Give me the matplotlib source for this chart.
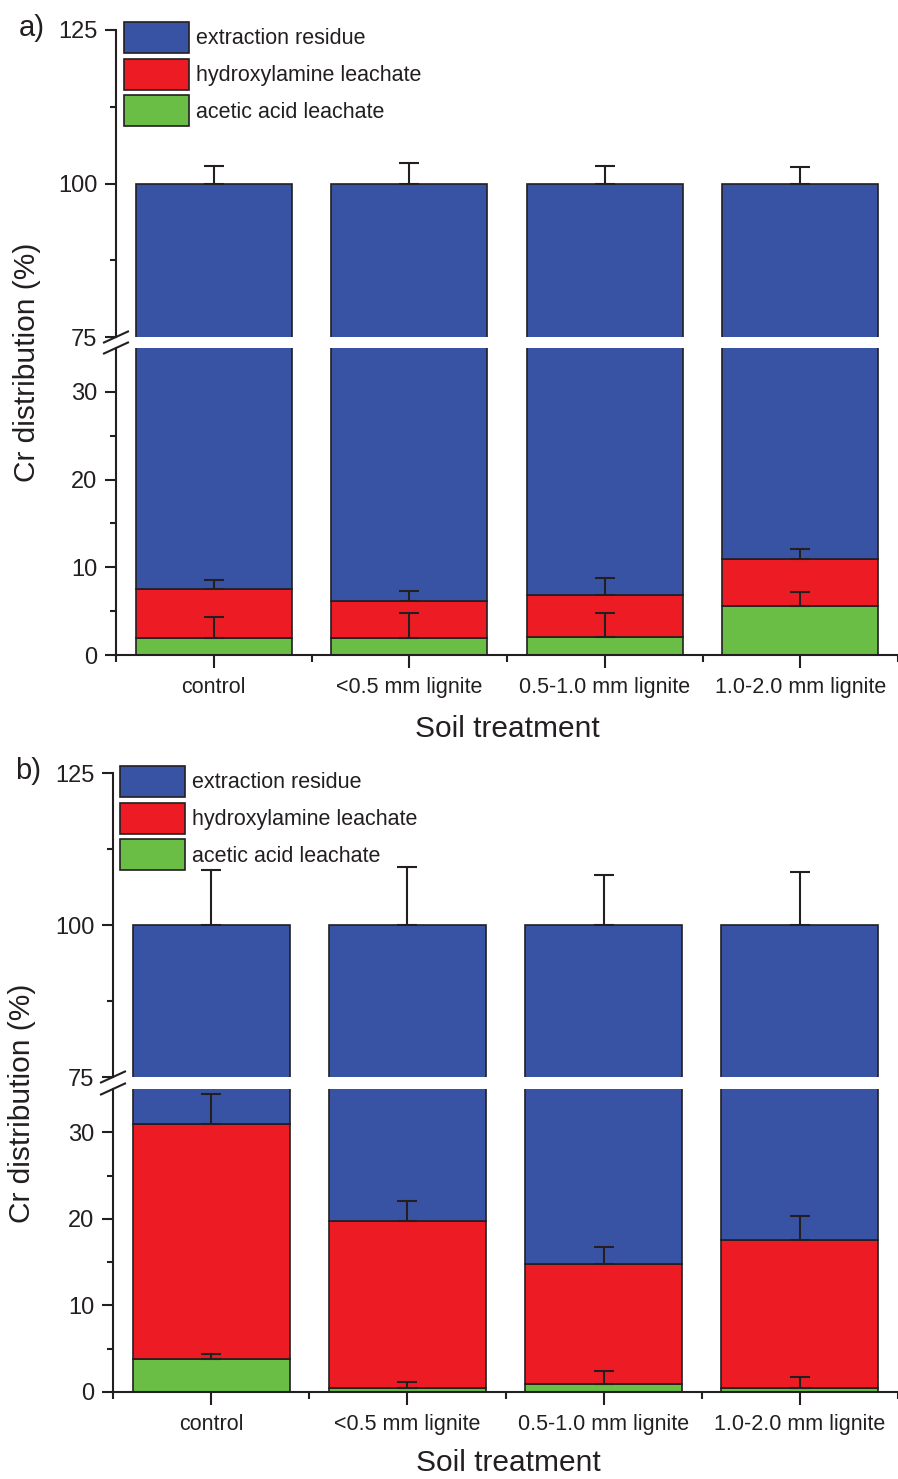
import matplotlib
matplotlib.use("Agg")
import matplotlib.pyplot as plt
from matplotlib.lines import Line2D
from matplotlib.patches import Patch
import numpy as np

plt.rcParams['font.family'] = ['Liberation Sans', 'DejaVu Sans']

# ---------------- data ----------------
categories = ["control", "<0.5 mm lignite", "0.5-1.0 mm lignite", "1.0-2.0 mm lignite"]
series_names = ["extraction residue", "hydroxylamine leachate", "acetic acid leachate"]

# panel a
a_acetic = [1.9, 1.9, 2.1, 5.6]
a_hydrox = [5.65, 4.3, 4.7, 5.4]
a_acetic_err = [2.45, 2.85, 2.7, 1.6]
a_hydrox_err = [1.05, 1.1, 2.0, 1.1]
a_residue_err = [2.8, 3.3, 2.9, 2.7]

# panel b
b_acetic = [3.8, 0.5, 0.9, 0.5]
b_hydrox = [27.15, 19.3, 13.85, 17.05]
b_acetic_err = [0.55, 0.7, 1.55, 1.2]
b_hydrox_err = [3.45, 2.3, 2.05, 2.75]
b_residue_err = [9.0, 9.5, 8.3, 8.7]

total = 100.0
upper_ticks = [75, 100, 125]
upper_minor = [87.5, 112.5]
lower_ticks = [0, 10, 20, 30]
lower_minor = [5, 15, 25]

C_RES = "#3953A4"
C_HYD = "#ED1C24"
C_ACE = "#6ABD45"
DARK = "#231F20"

W, H = 898, 1479
fig = plt.figure(figsize=(W / 100, H / 100), dpi=100)


def rect(x0, y0, x1, y1):
    return [x0 / W, 1 - y1 / H, (x1 - x0) / W, (y1 - y0) / H]


TICK_FS = 17
CAT_FS = 15.5
LAB_FS = 21.5


def panel(box, acetic, hydrox, ace_err, hyd_err, res_err, letter, leg_xy, ylabel_xy, xlabel_xy):
    x0, ytop, x1, ybreak_top, ybreak_bot, ybot = box
    ax_up = fig.add_axes(rect(x0, ytop, x1, ybreak_top))
    ax_lo = fig.add_axes(rect(x0, ybreak_bot, x1, ybot))
    x = np.arange(len(categories))
    acetic = np.array(acetic)
    hydrox = np.array(hydrox)
    residue = total - acetic - hydrox
    for ax in (ax_up, ax_lo):
        ax.bar(x, acetic, 0.8, color=C_ACE, edgecolor=DARK, linewidth=1.2, zorder=2)
        ax.bar(x, hydrox, 0.8, bottom=acetic, color=C_HYD, edgecolor=DARK, linewidth=1.2, zorder=2)
        ax.bar(x, residue, 0.8, bottom=acetic + hydrox, color=C_RES, edgecolor=DARK, linewidth=1.2, zorder=2)
        ax.set_xlim(-0.5, 3.5)
        ax.set_facecolor('none')
        for s in ('top', 'right'):
            ax.spines[s].set_visible(False)
        ax.spines['left'].set_linewidth(1.5)
        ax.spines['left'].set_color(DARK)
        ax.spines['bottom'].set_linewidth(1.5)
        ax.spines['bottom'].set_color(DARK)
        ax.tick_params(axis='both', which='major', direction='out', length=8, width=1.5,
                       color=DARK, labelsize=TICK_FS, labelcolor=DARK, pad=5.5)
        ax.tick_params(axis='both', which='minor', direction='out', length=4.5, width=1.5, color=DARK)

    ebkw = dict(fmt='none', ecolor=DARK, elinewidth=1.5, capsize=7, capthick=1.5, zorder=3)
    # upper part
    ax_up.errorbar(x, acetic + hydrox + residue, yerr=[np.zeros(len(x)), res_err], **ebkw)
    ax_up.set_ylim(75, 125)
    ax_up.set_yticks(upper_ticks)
    ax_up.set_yticks(upper_minor, minor=True)
    ax_up.spines['bottom'].set_visible(False)
    ax_up.set_xticks([])
    # lower part
    ax_lo.errorbar(x, acetic, yerr=[np.zeros(len(x)), ace_err], **ebkw)
    ax_lo.errorbar(x, acetic + hydrox, yerr=[np.zeros(len(x)), hyd_err], **ebkw)
    ax_lo.set_ylim(0, 35)
    ax_lo.set_yticks(lower_ticks)
    ax_lo.set_yticks(lower_minor, minor=True)
    ax_lo.set_xticks(x)
    ax_lo.set_xticklabels(categories, fontsize=CAT_FS, color=DARK)
    ax_lo.set_xticks(np.arange(-0.5, 4.0, 1.0), minor=True)
    ax_lo.tick_params(axis='x', which='major', length=9.5, pad=6)
    ax_lo.tick_params(axis='x', which='minor', length=5)

    # break marks
    for yb in (ybreak_top, ybreak_bot):
        fig.add_artist(Line2D([(x0 - 12) / W, (x0 + 12) / W],
                              [1 - (yb + 5.5) / H, 1 - (yb - 5.5) / H],
                              color=DARK, lw=1.5, transform=fig.transFigure))

    # legend
    handles = [Patch(facecolor=c, edgecolor=DARK, linewidth=1.2) for c in (C_RES, C_HYD, C_ACE)]
    leg = ax_up.legend(handles, series_names, loc='upper left',
                       bbox_to_anchor=(leg_xy[0] / W, 1 - leg_xy[1] / H),
                       bbox_transform=fig.transFigure, frameon=False,
                       fontsize=15.5, handlelength=3.0, handleheight=1.84,
                       labelspacing=0.26, handletextpad=0.33, borderpad=0, borderaxespad=0)
    for t in leg.get_texts():
        t.set_color(DARK)

    fig.text(letter[1] / W, 1 - letter[2] / H, letter[0], fontsize=21, color=DARK,
             ha='left', va='center')
    fig.text(ylabel_xy[0] / W, 1 - ylabel_xy[1] / H, "Cr distribution (%)", fontsize=LAB_FS,
             rotation=90, ha='center', va='center', color=DARK)
    fig.text(xlabel_xy[0] / W, 1 - xlabel_xy[1] / H, "Soil treatment", fontsize=LAB_FS,
             ha='center', va='center', color=DARK)


panel((116, 30, 898, 337, 348, 655), a_acetic, a_hydrox, a_acetic_err, a_hydrox_err, a_residue_err,
      ("a)", 19, 28), (124, 22), (27, 362), (507, 729))
panel((113, 773, 898, 1077, 1089, 1392), b_acetic, b_hydrox, b_acetic_err, b_hydrox_err, b_residue_err,
      ("b)", 15, 771), (120, 766), (22, 1103), (508, 1463))

fig.savefig("out.png", dpi=100)
